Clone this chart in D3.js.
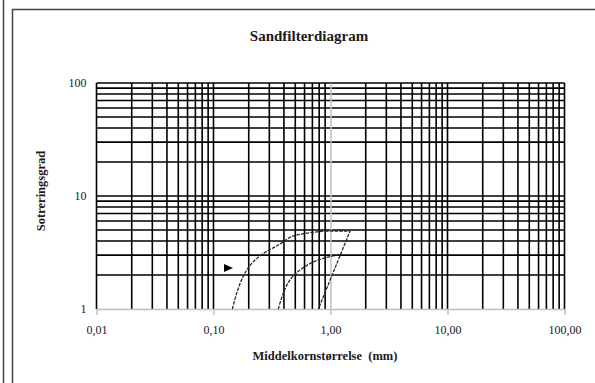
<!DOCTYPE html>
<html>
<head>
<meta charset="utf-8">
<script src="https://cdn.jsdelivr.net/npm/d3@7"></script>
<style>
	body { margin: 0; background: #fff; }
	svg { display: block; }
	svg text { font-family: "Liberation Serif", "Times New Roman", "DejaVu Serif", serif !important; fill: #1a1a1a; }
</style>
</head>
<body>
<svg id="chart" width="595" height="383"></svg>
<script>

// data
var xTicks = [0.01, 0.1, 1, 10, 100];
var xTickLabels = ["0,01", "0,10", "1,00", "10,00", "100,00"];
var yTicks = [1, 10, 100];
var yTickLabels = ["1", "10", "100"];

var outerCurveX = [0.145, 0.158, 0.174, 0.192, 0.219, 0.267, 0.358, 0.464, 0.61, 0.9];
var outerCurveY = [1, 1.39, 1.81, 2.21, 2.62, 3.11, 3.68, 4.37, 4.67, 4.9];
var outerEdgeX = [0.9, 1.47, 0.787];
var outerEdgeY = [4.9, 4.9, 1];
var innerCurveX = [0.358, 0.395, 0.451, 0.548, 0.691, 0.897, 1.246];
var innerCurveY = [1, 1.38, 1.81, 2.21, 2.57, 2.84, 3.05];
var markerX = [0.133];
var markerY = [2.3];

var title = "Sandfilterdiagram";
var xTitle = "Middelkornstørrelse  (mm)";
var yTitle = "Sotreringsgrad";

(function() {

	var svg = d3.select("#chart");

	var left = 96.5, right = 564.5, top = 83, bottom = 309;

	var xScale = d3.scaleLog().domain([0.01, 100]).range([left, right]);
	var yScale = d3.scaleLog().domain([1, 100]).range([bottom, top]);

	// outer frame
	svg.append("line")
		.attr("x1", 3.5).attr("x2", 3.5).attr("y1", 0).attr("y2", 383)
		.attr("stroke", "#444").attr("stroke-width", 1.5);
	svg.append("path")
		.attr("d", "M12.5,383V9.5H600")
		.attr("fill", "none").attr("stroke", "#444").attr("stroke-width", 1.5);

	// minor gridlines 1..9 per decade
	var xGrid = [];
	xTicks.slice(0, -1).forEach(function(d) {
		for (var k = 1; k < 10; k++) xGrid.push(d * k);
	});
	xGrid.push(100);

	var yGrid = [];
	yTicks.slice(0, -1).forEach(function(d) {
		for (var k = 1; k < 10; k++) yGrid.push(d * k);
	});
	yGrid.push(100);

	var grid = svg.append("g").attr("class", "grid");

	grid.selectAll("line.h")
		.data(yGrid.filter(function(d) { return d != 1; }))
		.enter()
		.append("line")
		.attr("class", "h")
		.attr("x1", left).attr("x2", right)
		.attr("y1", function(d) { return yScale(d); })
		.attr("y2", function(d) { return yScale(d); })
		.attr("stroke", "#000").attr("stroke-width", 1.6);

	grid.selectAll("line.v")
		.data(xGrid.filter(function(d) { return d != 1; }))
		.enter()
		.append("line")
		.attr("class", "v")
		.attr("x1", function(d) { return xScale(d); })
		.attr("x2", function(d) { return xScale(d); })
		.attr("y1", top).attr("y2", bottom)
		.attr("stroke", "#000").attr("stroke-width", 1.6);

	// x axis (grey) crossing at y = 1
	var xAxis = d3.axisBottom(xScale)
		.tickValues(xTicks)
		.tickSize(6)
		.tickSizeOuter(0)
		.tickFormat(function(d, i) { return xTickLabels[i]; });

	var gx = svg.append("g")
		.attr("transform", "translate(0," + bottom + ")")
		.call(xAxis);
	gx.select(".domain").attr("stroke", "#c0c0c0").attr("stroke-width", 1.5);
	gx.selectAll(".tick line").attr("stroke", "#c0c0c0").attr("stroke-width", 1.5);
	gx.selectAll(".tick text")
		.attr("y", 16)
		.attr("font-size", 12);

	// y axis (grey) crossing at x = 1
	var yAxis = d3.axisLeft(yScale).tickValues([]).tickSize(0).tickSizeOuter(0);
	var gy = svg.append("g")
		.attr("transform", "translate(" + xScale(1) + ",0)")
		.call(yAxis);
	gy.select(".domain").attr("stroke", "#c0c0c0").attr("stroke-width", 1.5);

	// y tick labels at the left edge
	svg.selectAll("text.ylab")
		.data(yTicks)
		.enter()
		.append("text")
		.attr("class", "ylab")
		.attr("x", left - 10)
		.attr("y", function(d) { return yScale(d); })
		.attr("dy", "0.35em")
		.attr("text-anchor", "end")
		.attr("font-size", 12)
		.text(function(d, i) { return yTickLabels[i]; });

	// series
	var line = d3.line()
		.x(function(d) { return xScale(d[0]); })
		.y(function(d) { return yScale(d[1]); });

	var smooth = d3.line()
		.curve(d3.curveCatmullRom)
		.x(function(d) { return xScale(d[0]); })
		.y(function(d) { return yScale(d[1]); });

	var zip = function(xs, ys) { return xs.map(function(x, i) { return [x, ys[i]]; }); };

	var series = svg.append("g").attr("class", "series")
		.attr("fill", "none")
		.attr("stroke", "#2a2a2a")
		.attr("stroke-width", 1.3)
		.attr("stroke-dasharray", "3.5,1.2");

	series.append("path").attr("d", smooth(zip(outerCurveX, outerCurveY)));
	series.append("path").attr("d", line(zip(outerEdgeX, outerEdgeY)));
	series.append("path").attr("d", smooth(zip(innerCurveX, innerCurveY)));

	svg.selectAll("path.marker")
		.data(zip(markerX, markerY))
		.enter()
		.append("path")
		.attr("class", "marker")
		.attr("d", "M-4,-4L5,0L-4,4Z")
		.attr("transform", function(d) { return "translate(" + xScale(d[0]) + "," + yScale(d[1]) + ")"; })
		.attr("fill", "#000");

	// titles
	svg.append("text")
		.attr("x", 309).attr("y", 41)
		.attr("text-anchor", "middle")
		.attr("font-size", 15)
		.attr("font-weight", "bold")
		.text(title);

	svg.append("text")
		.attr("x", 325).attr("y", 360)
		.attr("text-anchor", "middle")
		.attr("font-size", 12.5)
		.attr("font-weight", "bold")
		.style("white-space", "pre")
		.text(xTitle);

	svg.append("text")
		.attr("transform", "translate(45,191) rotate(-90)")
		.attr("text-anchor", "middle")
		.attr("font-size", 12.5)
		.attr("font-weight", "bold")
		.text(yTitle);

})();
</script>
</body>
</html>
